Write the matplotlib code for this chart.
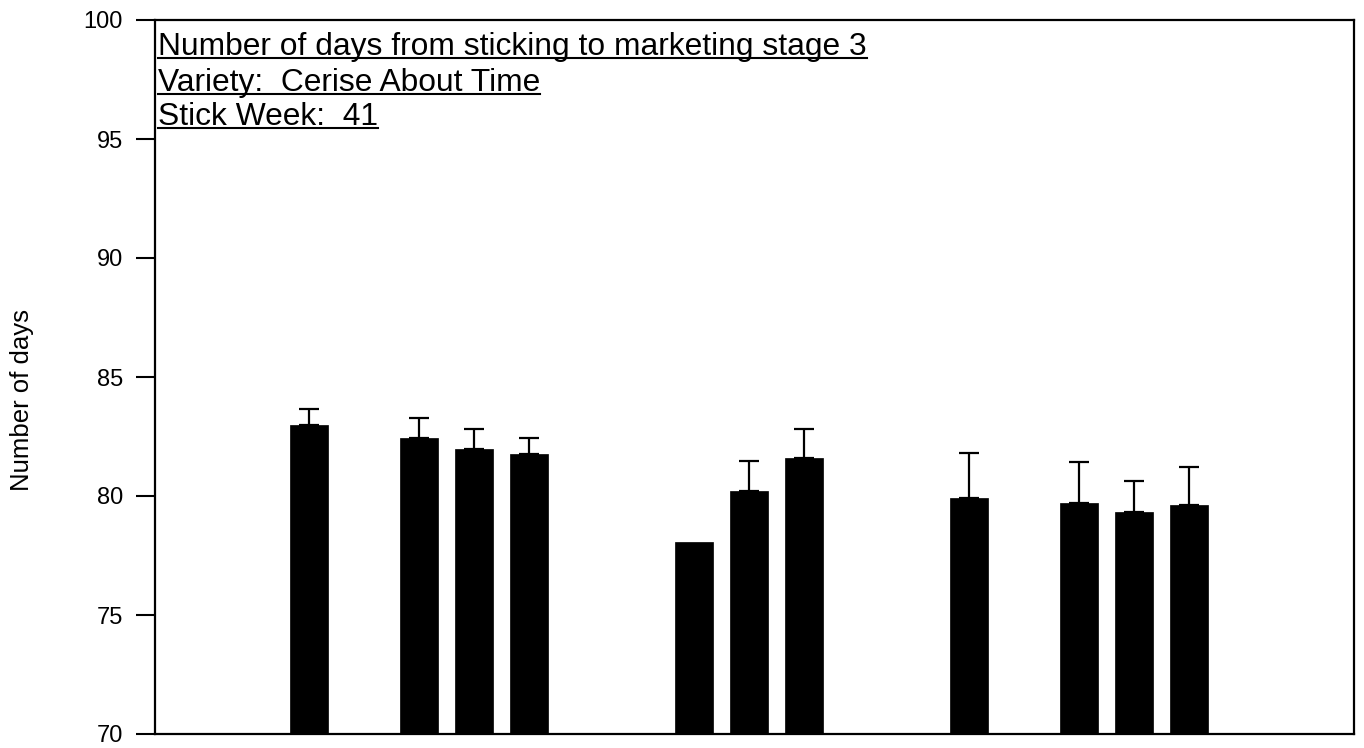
import matplotlib
matplotlib.use("Agg")
import matplotlib.pyplot as plt
from matplotlib.lines import Line2D
import numpy as np

plt.rcParams['font.family'] = ['Liberation Sans', 'DejaVu Sans']

# Treatment slots along the x axis (empty slots separate the groups)
positions = [0, 2, 3, 4, 7, 8, 9, 12, 14, 15, 16]
days = [83.0, 82.45, 81.96, 81.76, 78.08, 80.21, 81.58, 79.90, 79.69, 79.32, 79.61]
errors = [0.65, 0.82, 0.86, 0.66, 0.0, 1.26, 1.24, 1.92, 1.74, 1.31, 1.62]

title_lines = [
    "Number of days from sticking to marketing stage 3",
    "Variety:  Cerise About Time",
    "Stick Week:  41",
]
y_ticks = [70, 75, 80, 85, 90, 95, 100]
y_label = "Number of days"

W, H = 1364, 748
fig = plt.figure(figsize=(W / 100, H / 100), dpi=100)
ax = fig.add_axes([155 / W, (H - 734) / H, 1199 / W, 714 / H])

ax.bar(positions, days, width=0.68, color="black", edgecolor="black",
       linewidth=0.5, zorder=2)

pos_e = [p for p, e in zip(positions, errors) if e > 0]
val_e = [v for v, e in zip(days, errors) if e > 0]
err_e = [e for e in errors if e > 0]
ax.errorbar(pos_e, val_e, yerr=[np.zeros(len(err_e)), err_e], fmt="none",
            ecolor="black", elinewidth=1.6, capsize=7.4, capthick=1.6, zorder=3)

ax.set_xlim(-2.8, 19.0)
ax.set_ylim(70, 100)
ax.set_yticks(y_ticks)
ax.set_yticklabels([str(t) for t in y_ticks], fontsize=17)
ax.set_xticks([])
ax.tick_params(axis="y", direction="out", length=14, width=1.5, pad=9)
for s in ax.spines.values():
    s.set_linewidth(1.6)
    s.set_color("black")

fig.text(22 / W, (H - 400) / H, y_label, rotation=90, fontsize=18.5,
         ha="center", va="center", color="black")

# Underlined heading lines in the upper-left corner of the plot area
baselines_px = [55, 91, 125]
texts = []
for line, by in zip(title_lines, baselines_px):
    t = ax.text((158 - 155) / 1199, (734 - by) / 714, line, transform=ax.transAxes,
                fontsize=22.9, ha="left", va="baseline", color="black")
    texts.append((t, by))

fig.canvas.draw()
renderer = fig.canvas.get_renderer()
for t, by in texts:
    bb = t.get_window_extent(renderer)
    y_line = (H - by - 2.5) / H
    fig.add_artist(Line2D([bb.x0 / W, bb.x1 / W], [y_line, y_line],
                          transform=fig.transFigure, color="black", linewidth=1.5))

fig.savefig("out.png", dpi=100, facecolor="white")
